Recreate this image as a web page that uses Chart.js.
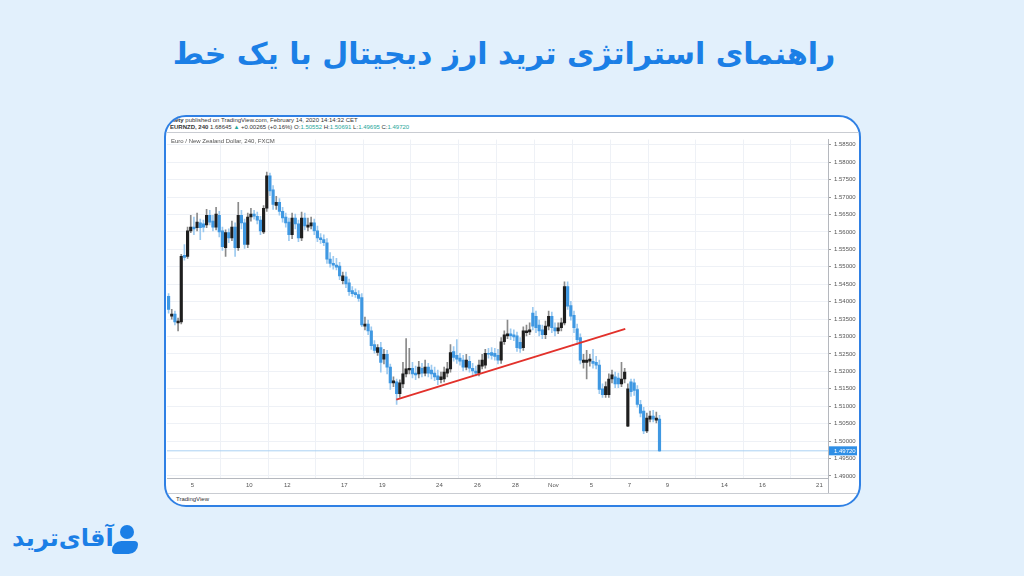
<!DOCTYPE html>
<html lang="fa">
<head>
<meta charset="utf-8">
<title>EURNZD 240</title>
<script src="https://cdn.jsdelivr.net/npm/chart.js@4.4.1/dist/chart.umd.min.js"></script>
<style>
  html, body { margin: 0; padding: 0; }
  body {
    width: 1024px; height: 576px; overflow: hidden; position: relative;
    background: #e2f0fc; font-family: "DejaVu Sans", sans-serif;
  }
  .title {
    position: absolute; left: -8px; top: 36px; width: 1024px; text-align: center;
    direction: rtl; font-weight: bold; font-size: 30px; color: #1b7fe6;
  }
  .card {
    position: absolute; left: 164px; top: 115px; width: 693px; height: 388px;
    background: #fff; border: 2px solid #2f80e4; border-radius: 22px; overflow: hidden;
  }
  .hdr { position: absolute; left: 4px; font-family: "Liberation Sans", sans-serif; font-size: 6px; color: #333; white-space: nowrap; }
  .hdr b { font-weight: bold; }
  .hdr .v { color: #26a69a; }
  .sep { position: absolute; left: 0; width: 693px; height: 1px; background: #c9ccd2; }
  #chartWrap { position: absolute; left: 0; top: 16px; width: 692px; height: 360px; }
  .sym { position: absolute; left: 5px; top: 21px; font-family: "Liberation Sans", sans-serif; font-size: 6px; color: #555; }
  .tv { position: absolute; left: 10px; top: 379px; font-family: "Liberation Sans", sans-serif; font-size: 6px; color: #333; }
  .logo { position: absolute; left: 12px; top: 521px; width: 130px; height: 40px; }
  .logo .txt { position: absolute; left: 0; top: 3px; font-weight: bold; font-size: 24px; color: #1b7fe6; direction: rtl; }
  .logo .head { position: absolute; left: 108px; top: 4px; width: 14px; height: 14px; border-radius: 50%; background: #1b7fe6; }
  .logo .body { position: absolute; left: 100px; top: 20px; width: 26px; height: 13px; background: #1b7fe6; border-radius: 10px 4px 10px 4px; }
</style>
</head>
<body>

<div class="title">راهنمای استراتژی ترید ارز دیجیتال با یک خط</div>

<div class="card">
  <div class="hdr" style="top:0px"><b>ciety</b> published on TradingView.com, February 14, 2020 14:14:32 CET</div>
  <div class="hdr" style="top:7px"><b>EURNZD, 240</b> 1.68645 <span class="v">▲</span> +0.00265 (+0.16%) O:<span class="v">1.50552</span> H:<span class="v">1.50691</span> L:<span class="v">1.49695</span> C:<span class="v">1.49720</span></div>
  <div class="sep" style="top:15px"></div>
  <div id="chartWrap"><canvas id="priceChart" width="692" height="360"></canvas></div>
  <div class="sym">Euro / New Zealand Dollar, 240, FXCM</div>
  <div class="sep" style="top:376px"></div>
  <div class="tv">TradingView</div>
</div>

<div class="logo">
  <div class="txt">آقای‌ترید</div>
  <div class="head"></div>
  <div class="body"></div>
</div>

<script>
/*************************************************
 * DATA (EURNZD, 4H candles)
 *************************************************/
const opens = [
  1.5415, 1.5358, 1.5364, 1.5339, 1.5342, 1.5533, 1.5530, 1.5603, 1.5614, 1.5612,
  1.5626, 1.5623, 1.5620, 1.5648, 1.5631, 1.5614, 1.5648, 1.5603, 1.5555, 1.5598,
  1.5583, 1.5614, 1.5555, 1.5648, 1.5626, 1.5564, 1.5643, 1.5651, 1.5645, 1.5634,
  1.5600, 1.5668, 1.5761, 1.5721, 1.5676, 1.5685, 1.5659, 1.5643, 1.5628, 1.5592,
  1.5640, 1.5623, 1.5583, 1.5640, 1.5614, 1.5617, 1.5626, 1.5603, 1.5583, 1.5578,
  1.5569, 1.5522, 1.5510, 1.5505, 1.5502, 1.5460, 1.5471, 1.5454, 1.5432, 1.5426,
  1.5420, 1.5412, 1.5330, 1.5336, 1.5316, 1.5277, 1.5254, 1.5268, 1.5235, 1.5249,
  1.5212, 1.5167, 1.5170, 1.5136, 1.5164, 1.5193, 1.5204, 1.5209, 1.5195, 1.5193,
  1.5209, 1.5195, 1.5212, 1.5204, 1.5195, 1.5187, 1.5176, 1.5178, 1.5195, 1.5207,
  1.5257, 1.5246, 1.5238, 1.5232, 1.5212, 1.5229, 1.5209, 1.5201, 1.5195, 1.5215,
  1.5218, 1.5252, 1.5254, 1.5252, 1.5246, 1.5232, 1.5285, 1.5302, 1.5308, 1.5305,
  1.5302, 1.5283, 1.5268, 1.5311, 1.5313, 1.5367, 1.5358, 1.5333, 1.5319, 1.5305,
  1.5330, 1.5358, 1.5325, 1.5316, 1.5325, 1.5339, 1.5443, 1.5389, 1.5361, 1.5322,
  1.5297, 1.5226, 1.5226, 1.5229, 1.5229, 1.5226, 1.5218, 1.5150, 1.5133, 1.5133,
  1.5178, 1.5184, 1.5181, 1.5164, 1.5178, 1.5043, 1.5170, 1.5167, 1.5148, 1.5105,
  1.5086, 1.5029, 1.5063, 1.5072, 1.5060, 1.5063
];
const highs = [
  1.5423, 1.5378, 1.5373, 1.5353, 1.5536, 1.5564, 1.5614, 1.5648, 1.5643, 1.5654,
  1.5637, 1.5634, 1.5665, 1.5662, 1.5648, 1.5671, 1.5659, 1.5614, 1.5606, 1.5609,
  1.5631, 1.5626, 1.5685, 1.5662, 1.5637, 1.5654, 1.5668, 1.5662, 1.5657, 1.5645,
  1.5676, 1.5772, 1.5769, 1.5733, 1.5702, 1.5696, 1.5671, 1.5654, 1.5640, 1.5654,
  1.5651, 1.5634, 1.5657, 1.5654, 1.5640, 1.5643, 1.5637, 1.5617, 1.5595, 1.5592,
  1.5581, 1.5541, 1.5530, 1.5524, 1.5513, 1.5485, 1.5485, 1.5465, 1.5443, 1.5437,
  1.5432, 1.5423, 1.5356, 1.5347, 1.5328, 1.5288, 1.5277, 1.5283, 1.5263, 1.5260,
  1.5221, 1.5184, 1.5178, 1.5176, 1.5226, 1.5294, 1.5266, 1.5226, 1.5215, 1.5229,
  1.5223, 1.5232, 1.5223, 1.5218, 1.5212, 1.5204, 1.5198, 1.5212, 1.5226, 1.5277,
  1.5271, 1.5291, 1.5252, 1.5246, 1.5249, 1.5243, 1.5223, 1.5215, 1.5232, 1.5249,
  1.5263, 1.5266, 1.5268, 1.5266, 1.5263, 1.5297, 1.5316, 1.5347, 1.5322, 1.5319,
  1.5313, 1.5297, 1.5328, 1.5333, 1.5339, 1.5384, 1.5373, 1.5347, 1.5333, 1.5344,
  1.5373, 1.5370, 1.5339, 1.5339, 1.5353, 1.5457, 1.5457, 1.5401, 1.5373, 1.5336,
  1.5308, 1.5249, 1.5260, 1.5249, 1.5263, 1.5243, 1.5232, 1.5164, 1.5170, 1.5193,
  1.5204, 1.5198, 1.5195, 1.5226, 1.5209, 1.5164, 1.5178, 1.5178, 1.5159, 1.5117,
  1.5097, 1.5080, 1.5086, 1.5088, 1.5083, 1.5074
];
const lows = [
  1.5367, 1.5350, 1.5333, 1.5316, 1.5336, 1.5519, 1.5524, 1.5598, 1.5592, 1.5603,
  1.5578, 1.5600, 1.5612, 1.5620, 1.5603, 1.5606, 1.5586, 1.5547, 1.5530, 1.5569,
  1.5575, 1.5530, 1.5547, 1.5609, 1.5553, 1.5555, 1.5631, 1.5637, 1.5623, 1.5592,
  1.5595, 1.5659, 1.5704, 1.5665, 1.5665, 1.5648, 1.5628, 1.5614, 1.5575, 1.5581,
  1.5609, 1.5572, 1.5575, 1.5606, 1.5603, 1.5609, 1.5592, 1.5572, 1.5567, 1.5561,
  1.5510, 1.5499, 1.5493, 1.5491, 1.5463, 1.5451, 1.5440, 1.5418, 1.5415, 1.5412,
  1.5401, 1.5328, 1.5319, 1.5305, 1.5263, 1.5252, 1.5246, 1.5198, 1.5221, 1.5193,
  1.5148, 1.5156, 1.5105, 1.5125, 1.5153, 1.5184, 1.5193, 1.5181, 1.5176, 1.5181,
  1.5184, 1.5187, 1.5184, 1.5178, 1.5173, 1.5162, 1.5167, 1.5170, 1.5184, 1.5198,
  1.5229, 1.5223, 1.5218, 1.5201, 1.5204, 1.5198, 1.5190, 1.5187, 1.5187, 1.5207,
  1.5209, 1.5238, 1.5235, 1.5232, 1.5221, 1.5223, 1.5277, 1.5294, 1.5291, 1.5288,
  1.5257, 1.5254, 1.5260, 1.5302, 1.5305, 1.5319, 1.5311, 1.5302, 1.5294, 1.5294,
  1.5319, 1.5311, 1.5302, 1.5308, 1.5316, 1.5333, 1.5378, 1.5347, 1.5311, 1.5277,
  1.5221, 1.5209, 1.5178, 1.5215, 1.5209, 1.5207, 1.5136, 1.5125, 1.5125, 1.5125,
  1.5167, 1.5153, 1.5153, 1.5156, 1.5167, 1.5041, 1.5128, 1.5131, 1.5097, 1.5069,
  1.5021, 1.5024, 1.5055, 1.5055, 1.5052, 1.4970
];
const closes = [
  1.5378, 1.5364, 1.5342, 1.5344, 1.5530, 1.5527, 1.5603, 1.5614, 1.5609, 1.5628,
  1.5612, 1.5614, 1.5648, 1.5628, 1.5614, 1.5651, 1.5600, 1.5558, 1.5598, 1.5583,
  1.5614, 1.5555, 1.5648, 1.5626, 1.5564, 1.5643, 1.5651, 1.5645, 1.5634, 1.5603,
  1.5668, 1.5761, 1.5718, 1.5679, 1.5685, 1.5659, 1.5640, 1.5626, 1.5592, 1.5640,
  1.5623, 1.5583, 1.5640, 1.5617, 1.5620, 1.5626, 1.5603, 1.5583, 1.5578, 1.5569,
  1.5522, 1.5510, 1.5505, 1.5499, 1.5474, 1.5474, 1.5451, 1.5429, 1.5423, 1.5420,
  1.5409, 1.5333, 1.5336, 1.5316, 1.5274, 1.5260, 1.5268, 1.5226, 1.5249, 1.5212,
  1.5167, 1.5173, 1.5136, 1.5167, 1.5193, 1.5207, 1.5209, 1.5193, 1.5190, 1.5212,
  1.5195, 1.5212, 1.5195, 1.5193, 1.5184, 1.5176, 1.5184, 1.5198, 1.5207, 1.5254,
  1.5240, 1.5235, 1.5229, 1.5212, 1.5232, 1.5209, 1.5201, 1.5195, 1.5218, 1.5232,
  1.5252, 1.5249, 1.5246, 1.5243, 1.5232, 1.5285, 1.5305, 1.5308, 1.5302, 1.5299,
  1.5268, 1.5266, 1.5316, 1.5316, 1.5319, 1.5330, 1.5325, 1.5316, 1.5305, 1.5330,
  1.5358, 1.5325, 1.5316, 1.5325, 1.5339, 1.5443, 1.5387, 1.5358, 1.5325, 1.5291,
  1.5232, 1.5232, 1.5232, 1.5235, 1.5223, 1.5218, 1.5148, 1.5133, 1.5156, 1.5178,
  1.5190, 1.5164, 1.5164, 1.5178, 1.5198, 1.5150, 1.5142, 1.5145, 1.5105, 1.5080,
  1.5029, 1.5066, 1.5072, 1.5063, 1.5066, 1.4972
];

// Time axis: candle index where each day label sits
const tickIndex  = [7.5, 25.5, 37.5, 55.5, 67.5, 85.5, 97.5, 109.5, 121.5, 133.5, 145.5, 157.5, 175.5, 187.5, 205.5];
const tickLabels = ["5", "10", "12", "17", "19", "24", "26", "28", "Nov", "5", "7", "9", "14", "16", "21"];

// Hand-drawn trend line (candle index / price)
const trendX = [71.9, 144.2];
const trendY = [1.5119, 1.5322];

const lastPrice = 1.4972;

/*************************************************
 * COLORS
 *************************************************/
const UP = "#1e1e1e";
const DOWN = "#3f98e2";
const UP_WICK = "#8a8a8a";
const DOWN_WICK = "#9ccaf0";

const isUp = closes.map((c, i) => c >= opens[i]);

const bodies = opens.map((o, i) => ({ x: i, y: [o, closes[i]] }));
const wicks = lows.map((l, i) => ({ x: i, y: [l, highs[i]] }));

/*************************************************
 * LAST PRICE LABEL + AXIS DIVIDER
 *************************************************/
const lastPricePlugin = {
  id: "lastPrice",
  afterDraw(chart) {
    const { ctx, chartArea, scales } = chart;
    const y = scales.y.getPixelForValue(lastPrice);
    ctx.save();
    // divider under the price axis
    ctx.strokeStyle = "#b5b8be";
    ctx.lineWidth = 1;
    ctx.beginPath();
    ctx.moveTo(Math.round(chartArea.right) + 0.5, chartArea.bottom);
    ctx.lineTo(Math.round(chartArea.right) + 0.5, chart.height);
    ctx.stroke();
    // label box
    ctx.fillStyle = "#2f8fe6";
    ctx.fillRect(chartArea.right + 1, y - 4.5, 28, 9);
    ctx.fillStyle = "#fff";
    ctx.font = "6px 'Liberation Sans'";
    ctx.textBaseline = "middle";
    ctx.fillText(lastPrice.toFixed(5), chartArea.right + 6, y + 0.5);
    ctx.restore();
  }
};

/*************************************************
 * CHART
 *************************************************/
const ctx = document.getElementById("priceChart").getContext("2d");

new Chart(ctx, {
  type: "bar",
  data: {
    datasets: [
      {
        type: "line",
        data: trendX.map((x, i) => ({ x, y: trendY[i] })),
        borderColor: "#e2312b",
        borderWidth: 2,
        pointRadius: 0,
        order: 0
      },
      {
        data: bodies,
        backgroundColor: isUp.map(u => u ? UP : DOWN),
        barThickness: 2.5,
        minBarLength: 1,
        grouped: false,
        order: 1
      },
      {
        data: wicks,
        backgroundColor: isUp.map(u => u ? UP_WICK : DOWN_WICK),
        barThickness: 1,
        grouped: false,
        order: 2
      },
      {
        type: "line",
        data: [{ x: -0.5, y: lastPrice }, { x: 208.2, y: lastPrice }],
        borderColor: "#a9d1f3",
        borderWidth: 1,
        pointRadius: 0,
        order: 3
      }
    ]
  },
  options: {
    responsive: false,
    animation: false,
    layout: { padding: { left: 1, top: 0, right: 0, bottom: 0 } },
    plugins: {
      legend: { display: false },
      tooltip: { enabled: false }
    },
    scales: {
      x: {
        type: "linear",
        min: -0.5,
        max: 208.2,
        offset: false,
        grid: { color: "#eef1f6", tickLength: 0, drawTicks: false },
        border: { display: true, color: "#b5b8be" },
        afterBuildTicks: scale => { scale.ticks = tickIndex.map(v => ({ value: v })); },
        ticks: {
          autoSkip: false,
          maxRotation: 0,
          padding: 4,
          color: "#555",
          font: { family: "Liberation Sans", size: 6 },
          callback: (v, i) => tickLabels[i]
        },
        afterFit: scale => { scale.height = 15; }
      },
      y: {
        position: "right",
        min: 1.4894,
        max: 1.5865,
        grid: { color: "#eef1f6", tickLength: 3, tickColor: "#999" },
        border: { display: true, color: "#b5b8be" },
        ticks: {
          stepSize: 0.005,
          includeBounds: false,
          padding: 3,
          color: "#555",
          font: { family: "Liberation Sans", size: 6 },
          callback: v => v.toFixed(5)
        },
        afterFit: scale => { scale.width = 30; }
      }
    }
  },
  plugins: [lastPricePlugin]
});
</script>
</body>
</html>
